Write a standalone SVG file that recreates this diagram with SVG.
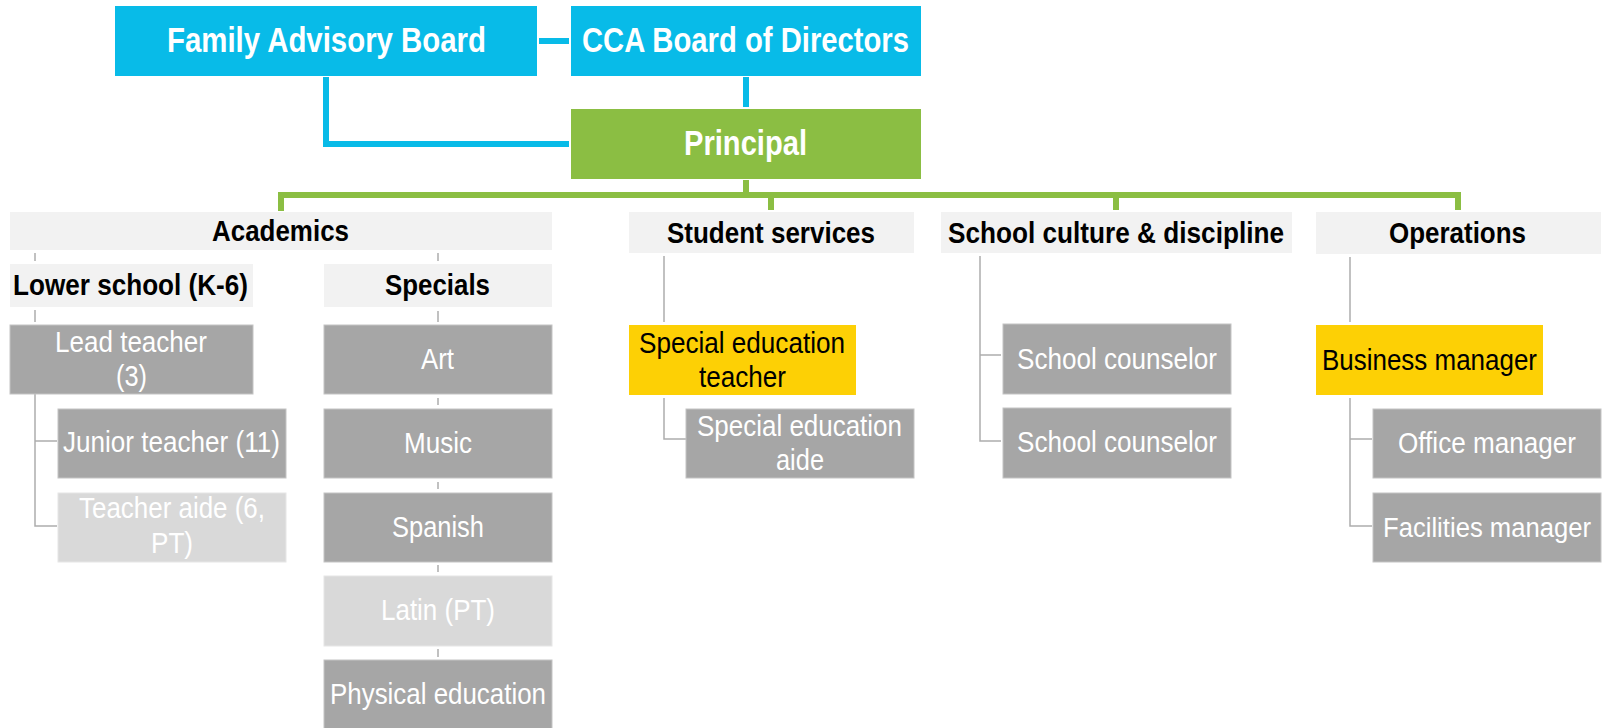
<svg xmlns="http://www.w3.org/2000/svg" width="1608" height="728" viewBox="0 0 1608 728">
<style>
text{font-family:"Liberation Sans",Arial,sans-serif;text-anchor:middle}
.top{font-size:35px;font-weight:bold;fill:#fff}
.hdr{font-size:30px;font-weight:bold;fill:#000}
.reg{font-size:29px;fill:#fff}
.dark{font-size:30px;fill:#000}
.cyan{fill:#08BBE8}
.green{fill:#8BBE43}
.head{fill:#F2F2F2}
.gray{fill:#A6A6A6;stroke:#C4C4C4;stroke-width:1}
.lgray{fill:#D9D9D9;stroke:#E6E6E6;stroke-width:1}
.yel{fill:#FDD005}
.bl{stroke:#08BBE8;stroke-width:6;fill:none;stroke-linejoin:miter}
.gl{stroke:#8BBE43;stroke-width:6;fill:none;stroke-linejoin:miter}
.ln{stroke:#ADADAD;stroke-width:1.5;fill:none}
</style>
<g id="connectors">
<path class="bl" d="M539,41 H569"/>
<path class="bl" d="M746,77 V107"/>
<path class="bl" d="M326,77 V144 H569"/>
<path class="gl" d="M746,180 V195"/>
<path class="gl" d="M281,211 V195 H1458 V210"/>
<path class="gl" d="M771,195 V210"/>
<path class="gl" d="M1116,195 V210"/>
<path class="ln" d="M35,253 V261 M35,310 V322 M438,253 V261 M438,311 V322 M438,398 V405 M438,482 V489 M438,565 V572 M438,649 V657"/>
<path class="ln" d="M35,394 V526 H57 M35,441 H57"/>
<path class="ln" d="M664,256 V322 M664,398 V439 H686"/>
<path class="ln" d="M980,256 V441 H1001 M980,355 H1001"/>
<path class="ln" d="M1350,257 V322 M1350,398 V526 H1372 M1350,439 H1372"/>
</g>
<g id="family-advisory-board"><rect class="cyan" x="115" y="6" width="422" height="70"/><text class="top" x="326.5" y="52" textLength="319" lengthAdjust="spacingAndGlyphs">Family Advisory Board</text></g>
<g id="cca-board"><rect class="cyan" x="571" y="6" width="350" height="70"/><text class="top" x="745.5" y="52" textLength="327" lengthAdjust="spacingAndGlyphs">CCA Board of Directors</text></g>
<g id="principal"><rect class="green" x="571" y="109" width="350" height="70"/><text class="top" x="745.5" y="155" textLength="123" lengthAdjust="spacingAndGlyphs">Principal</text></g>
<g id="academics"><rect class="head" x="10" y="212" width="542" height="38"/><text class="hdr" x="280.5" y="241" textLength="137" lengthAdjust="spacingAndGlyphs">Academics</text></g>
<g id="student-services"><rect class="head" x="629" y="212" width="285" height="41"/><text class="hdr" x="771" y="243" textLength="208" lengthAdjust="spacingAndGlyphs">Student services</text></g>
<g id="school-culture"><rect class="head" x="941" y="212" width="351" height="41"/><text class="hdr" x="1116" y="243" textLength="336" lengthAdjust="spacingAndGlyphs">School culture &amp; discipline</text></g>
<g id="operations"><rect class="head" x="1316" y="212" width="285" height="42"/><text class="hdr" x="1457.5" y="243" textLength="137" lengthAdjust="spacingAndGlyphs">Operations</text></g>
<g id="lower-school"><rect class="head" x="10" y="264" width="243" height="43"/><text class="hdr" x="130.5" y="295" textLength="235" lengthAdjust="spacingAndGlyphs">Lower school (K-6)</text></g>
<g id="specials"><rect class="head" x="324" y="264" width="228" height="43"/><text class="hdr" x="437.5" y="295" textLength="105" lengthAdjust="spacingAndGlyphs">Specials</text></g>
<g id="lead-teacher"><rect class="gray" x="10" y="325" width="243" height="69"/><text class="reg" x="131" y="352" textLength="152" lengthAdjust="spacingAndGlyphs">Lead teacher</text><text class="reg" x="131.5" y="386" textLength="31" lengthAdjust="spacingAndGlyphs">(3)</text></g>
<g id="junior-teacher"><rect class="gray" x="58" y="409" width="228" height="69"/><text class="reg" x="171.5" y="452" textLength="217" lengthAdjust="spacingAndGlyphs">Junior teacher (11)</text></g>
<g id="teacher-aide"><rect class="lgray" x="58" y="493" width="228" height="69"/><text class="reg" x="172" y="518" textLength="186" lengthAdjust="spacingAndGlyphs">Teacher aide (6,</text><text class="reg" x="172" y="553" textLength="42" lengthAdjust="spacingAndGlyphs">PT)</text></g>
<g id="art"><rect class="gray" x="324" y="325" width="228" height="69"/><text class="reg" x="437.5" y="369" textLength="33" lengthAdjust="spacingAndGlyphs">Art</text></g>
<g id="music"><rect class="gray" x="324" y="409" width="228" height="69"/><text class="reg" x="438" y="453" textLength="68" lengthAdjust="spacingAndGlyphs">Music</text></g>
<g id="spanish"><rect class="gray" x="324" y="493" width="228" height="69"/><text class="reg" x="438" y="537" textLength="92" lengthAdjust="spacingAndGlyphs">Spanish</text></g>
<g id="latin"><rect class="lgray" x="324" y="576" width="228" height="70"/><text class="reg" x="438" y="620" textLength="114" lengthAdjust="spacingAndGlyphs">Latin (PT)</text></g>
<g id="physical-education"><rect class="gray" x="324" y="660" width="228" height="69"/><text class="reg" x="438" y="704" textLength="216" lengthAdjust="spacingAndGlyphs">Physical education</text></g>
<g id="special-ed-teacher"><rect class="yel" x="629" y="325" width="227" height="70"/><text class="dark" x="742" y="353" textLength="206" lengthAdjust="spacingAndGlyphs">Special education</text><text class="dark" x="742.5" y="387" textLength="87" lengthAdjust="spacingAndGlyphs">teacher</text></g>
<g id="special-ed-aide"><rect class="gray" x="686" y="409" width="228" height="69"/><text class="reg" x="799.5" y="436" textLength="205" lengthAdjust="spacingAndGlyphs">Special education</text><text class="reg" x="800" y="470" textLength="48" lengthAdjust="spacingAndGlyphs">aide</text></g>
<g id="school-counselor-1"><rect class="gray" x="1003" y="324" width="228" height="70"/><text class="reg" x="1117" y="369" textLength="200" lengthAdjust="spacingAndGlyphs">School counselor</text></g>
<g id="school-counselor-2"><rect class="gray" x="1003" y="408" width="228" height="70"/><text class="reg" x="1117" y="452" textLength="200" lengthAdjust="spacingAndGlyphs">School counselor</text></g>
<g id="business-manager"><rect class="yel" x="1316" y="325" width="227" height="70"/><text class="dark" x="1429.5" y="370" textLength="215" lengthAdjust="spacingAndGlyphs">Business manager</text></g>
<g id="office-manager"><rect class="gray" x="1373" y="409" width="228" height="69"/><text class="reg" x="1487" y="453" textLength="178" lengthAdjust="spacingAndGlyphs">Office manager</text></g>
<g id="facilities-manager"><rect class="gray" x="1373" y="493" width="228" height="69"/><text class="reg" x="1487" y="537" style="font-size:27px" textLength="208" lengthAdjust="spacingAndGlyphs">Facilities manager</text></g>
</svg>
